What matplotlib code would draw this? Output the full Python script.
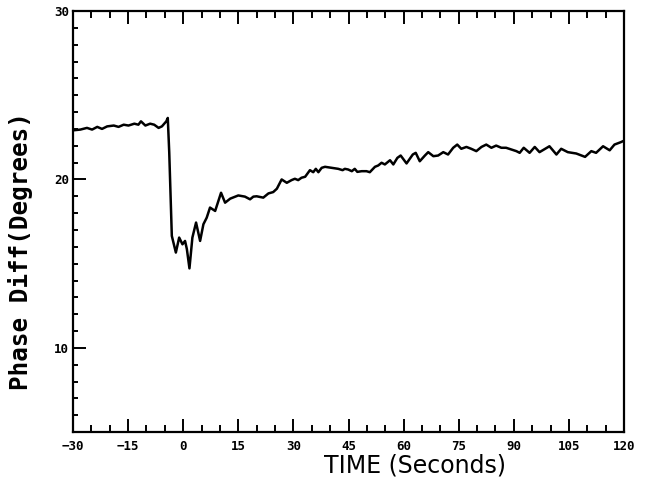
import numpy as np
import matplotlib.pyplot as plt
from matplotlib.ticker import MultipleLocator, FixedLocator

# phase difference trace
time_s = [-30, -29.8, -28.0, -26.2, -24.8, -23.4, -22.1, -20.7, -18.9, -17.6, -16.2,
          -14.9, -13.3, -12.2, -11.5, -10.3, -9.0, -7.9, -6.7, -5.8, -4.6, -4.2,
          -3.8, -3.1, -2.0, -1.1, -0.2, 0.5, 1.0, 1.7, 2.5, 3.5, 4.6, 5.5, 6.4,
          7.3, 8.7, 10.3, 11.4, 12.8, 15.0, 16.8, 18.2, 19.1, 20.0, 21.8, 23.2,
          24.5, 25.5, 26.8, 28.2, 29.5, 30.4, 31.3, 32.2, 33.2, 34.5, 35.4, 36.1,
          36.8, 37.7, 38.6, 40.4, 42.2, 43.4, 44.0, 44.9, 45.9, 46.7, 47.4, 48.6,
          49.9, 50.8, 52.2, 53.1, 54.0, 54.9, 56.3, 57.2, 58.3, 59.2, 60.8, 62.5,
          63.3, 64.4, 65.8, 66.7, 68.1, 69.4, 70.8, 72.1, 73.5, 74.6, 75.7, 77.1,
          78.4, 79.8, 81.2, 82.5, 83.9, 85.2, 86.6, 87.9, 89.3, 90.7, 91.6, 92.7,
          94.3, 95.7, 97.0, 99.7, 101.6, 102.9, 104.7, 107.0, 109.4, 111.1, 112.4,
          114.3, 116.1, 117.4, 119.1, 120]
phase_deg = [22.95, 22.92, 22.96, 23.06, 22.96, 23.12, 23.0, 23.15, 23.2, 23.12, 23.25,
             23.2, 23.31, 23.25, 23.45, 23.2, 23.31, 23.25, 23.06, 23.15, 23.45, 23.65,
             21.6, 16.65, 15.66, 16.55, 16.15, 16.35, 15.86, 14.72, 16.55, 17.44, 16.35,
             17.34, 17.73, 18.33, 18.13, 19.21, 18.62, 18.86, 19.05, 18.98, 18.82, 18.98,
             19.0, 18.92, 19.17, 19.25, 19.45, 20.0, 19.8, 19.96, 20.04, 19.96, 20.1,
             20.16, 20.55, 20.43, 20.63, 20.43, 20.69, 20.75, 20.69, 20.63, 20.55, 20.63,
             20.59, 20.49, 20.63, 20.45, 20.49, 20.49, 20.43, 20.75, 20.83, 20.99, 20.89,
             21.14, 20.89, 21.28, 21.42, 20.95, 21.48, 21.58, 21.08, 21.42, 21.62, 21.38,
             21.42, 21.62, 21.48, 21.88, 22.07, 21.82, 21.93, 21.82, 21.68, 21.93, 22.07,
             21.88, 22.01, 21.88, 21.88, 21.78, 21.68, 21.58, 21.88, 21.58, 21.93, 21.62,
             21.97, 21.48, 21.82, 21.62, 21.54, 21.34, 21.68, 21.58, 21.97, 21.73, 22.07,
             22.21, 22.3]

x_ticks = [-30, -15, 0, 15, 30, 45, 60, 75, 90, 105, 120]
y_ticks = [10, 20, 30]

fig = plt.figure(figsize=(6.53, 4.78), dpi=100)
ax = fig.add_axes([0.1118, 0.096, 0.8438, 0.881])

ax.plot(time_s, phase_deg, color='black', linewidth=1.8)

ax.set_xlim(-30, 120)
ax.set_ylim(5, 30)
ax.xaxis.set_major_locator(FixedLocator(x_ticks))
ax.xaxis.set_minor_locator(MultipleLocator(5))
ax.yaxis.set_major_locator(FixedLocator(y_ticks))
ax.yaxis.set_minor_locator(MultipleLocator(1))

for s in ax.spines.values():
    s.set_linewidth(1.6)

ax.tick_params(axis='x', which='both', direction='in', top=True, bottom=True, width=1.4)
ax.tick_params(axis='x', which='major', length=9.5, pad=6)
ax.tick_params(axis='x', which='minor', length=5)
ax.tick_params(axis='y', which='both', direction='in', left=True, right=False, width=1.4)
ax.tick_params(axis='y', which='major', length=9, pad=3)
ax.tick_params(axis='y', which='minor', length=3.8)

for lab in ax.get_xticklabels() + ax.get_yticklabels():
    lab.set_fontfamily('DejaVu Sans Mono')
    lab.set_fontweight('bold')
    lab.set_fontsize(9)

ax.set_xlabel('TIME (Seconds)', fontsize=17, family='DejaVu Sans')
ax.xaxis.set_label_coords(0.62, -0.05)
ax.set_ylabel('Phase Diff(Degrees)', fontsize=17.5, family='DejaVu Sans Mono',
              fontweight='bold')
ax.yaxis.set_label_coords(-0.072, 0.43)

fig.savefig('out.png', dpi=100)
